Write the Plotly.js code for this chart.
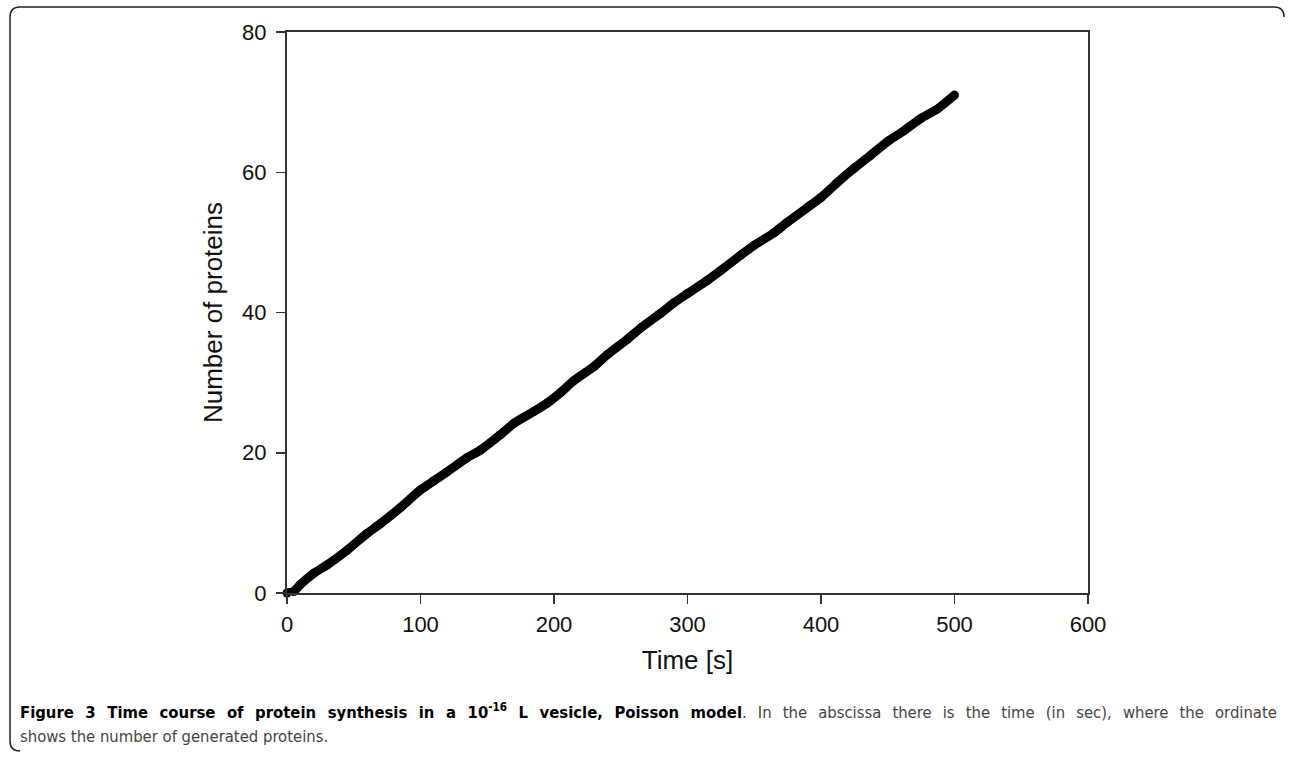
<!DOCTYPE html>
<html>
<head>
<meta charset="utf-8">
<script src="https://cdn.plot.ly/plotly-3.0.1.min.js"></script>
<style>
html,body{margin:0;padding:0;background:#fff;}
#chart{width:1290px;height:758px;}
</style>
</head>
<body>
<div id="chart"></div>
<script>
// Data
const timeSec = [0, 5, 10, 20, 30, 45, 60, 70, 85, 100, 110, 120, 135, 145, 160, 170, 185, 195, 205, 215, 230, 240, 255, 265, 280, 290, 300, 315, 325, 340, 350, 365, 375, 390, 400, 412, 425, 437, 450, 462, 475, 487, 500];
const proteins = [0, 0.2, 1.2, 2.8, 4.0, 6.1, 8.5, 9.9, 12.2, 14.7, 16.0, 17.3, 19.3, 20.4, 22.6, 24.2, 25.9, 27.1, 28.6, 30.3, 32.3, 34.0, 36.2, 37.8, 39.9, 41.4, 42.7, 44.6, 46.0, 48.2, 49.6, 51.4, 52.9, 55.0, 56.4, 58.5, 60.6, 62.4, 64.4, 65.9, 67.7, 69.0, 71.0];
const xTicks = [0, 100, 200, 300, 400, 500, 600];
const yTicks = [0, 20, 40, 60, 80];
const xTitle = 'Time [s]';
const yTitle = 'Number of proteins';
const captionBold = 'Figure 3 Time course of protein synthesis in a 10<sup>-16</sup> L vesicle, Poisson model';
const captionRest1 = '. In the abscissa there is the time (in sec), where the ordinate';
const captionRest2 = 'shows the number of generated proteins.';

// layout geometry (pixels)
const W = 1290, H = 758;
const L = 287, R = 1088, T = 32, B = 593;
const px = x => (x - L) / (R - L);
const py = y => (B - y) / (B - T);

const frame = [
  'M', px(20), py(7), 'Q', px(10), py(7), px(10), py(17),
  'L', px(10), py(741), 'Q', px(10), py(751), px(20), py(751),
  'M', px(20), py(7), 'L', px(1274), py(7), 'Q', px(1284), py(7), px(1284), py(17)
].join(' ');

const tickFont = {family: 'Liberation Sans, Arial, sans-serif', size: 22, color: '#111'};
const titleFont = {family: 'Liberation Sans, Arial, sans-serif', size: 26, color: '#111'};
const capFont = 'DejaVu Sans Condensed, Liberation Sans Narrow, sans-serif';

const axisCommon = {
  showgrid: false, zeroline: false, showline: true, mirror: true,
  linecolor: '#333', linewidth: 2,
  ticks: 'outside', ticklen: 9, tickwidth: 1.5, tickcolor: '#333',
  tickfont: tickFont
};

const layout = {
  width: W, height: H,
  margin: {l: L, r: W - R, t: T, b: H - B, pad: 0},
  paper_bgcolor: '#fff', plot_bgcolor: '#fff',
  showlegend: false,
  xaxis: Object.assign({}, axisCommon, {
    range: [0, 600], tickmode: 'array', tickvals: xTicks, ticktext: xTicks.map(String),
    ticklabelstandoff: 2,
    title: {text: xTitle, standoff: 14, font: titleFont}
  }),
  yaxis: Object.assign({}, axisCommon, {
    range: [0, 80], tickmode: 'array', tickvals: yTicks, ticktext: yTicks.map(String),
    ticklabelstandoff: 5,
    title: {text: yTitle, standoff: 12, font: titleFont}
  }),
  shapes: [{type: 'path', xref: 'paper', yref: 'paper', path: frame,
            line: {color: '#222', width: 1.5}, layer: 'above'}],
  annotations: [
    {xref: 'paper', yref: 'paper', x: px(18), y: py(711), xanchor: 'left', yanchor: 'middle',
     showarrow: false, align: 'left',
     text: '<b>' + captionBold + '</b><span style="color:#444">' + captionRest1 + '</span>',
     font: {family: capFont, size: 16.5, color: '#000'}},
    {xref: 'paper', yref: 'paper', x: px(18), y: py(736), xanchor: 'left', yanchor: 'middle',
     showarrow: false, align: 'left',
     text: captionRest2,
     font: {family: capFont, size: 16.5, color: '#444'}}
  ]
};

const trace = {
  type: 'scatter', mode: 'lines+markers', x: timeSec, y: proteins,
  line: {color: '#000', width: 9, shape: 'spline', smoothing: 0.6},
  marker: {color: '#000', size: 9},
  cliponaxis: false, hoverinfo: 'skip'
};

Plotly.newPlot('chart', [trace], layout, {displayModeBar: false, staticPlot: true}).then(gd => {
  // justify the first caption line like the original figure
  const t = gd.querySelectorAll('.annotation-text')[0];
  if (t) {
    const w = t.getBBox().width;
    const spaces = (t.textContent.match(/ /g) || []).length;
    const target = 1275 - 18;
    if (spaces > 0 && w < target) {
      t.style.wordSpacing = ((target - w) / spaces).toFixed(2) + 'px';
    }
  }
});
</script>
</body>
</html>
